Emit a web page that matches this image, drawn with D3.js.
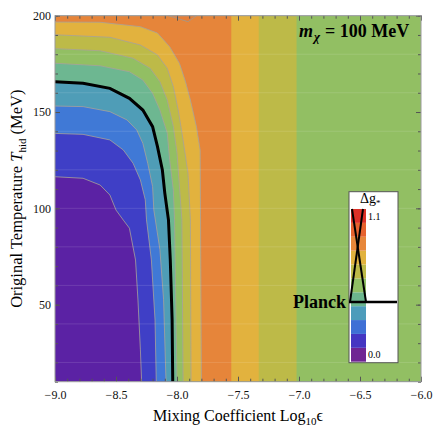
<!DOCTYPE html>
<meta charset="utf-8">
<script src="https://d3js.org/d3.v7.min.js"></script>
<style>
  body { margin: 0; background: #fff; }
  text { font-family: "Liberation Serif", "Times New Roman", serif; }
</style>
<div id="my_dataviz"></div>
<script>

// tick labels
var xMajor = [-9.0, -8.5, -8.0, -7.5, -7.0, -6.5, -6.0];
var yMajor = [50, 100, 150, 200];

// fill colour of each Δg band (plot) and of the legend bar
var levelColors = ["#5b22a4", "#3f3fc6", "#4079d6", "#4f9db7", "#6db791",
                   "#92bf63", "#bdba48", "#e2b23e", "#e6853a", "#e67f39"];
var legendColors = ["#6f2593", "#4536c2", "#3f70d5", "#4d9cbb", "#6cb68e", "#90bf64",
                    "#bdba48", "#e1b23e", "#e7873a", "#e6622e", "#dd3128"];
var legendLevels = [0.0, 0.1, 0.2, 0.3, 0.4, 0.5, 0.6, 0.7, 0.8, 0.9, 1.0, 1.1];
var legendPlanck = 0.43;

// contour boundaries: [log10 eps, T_hid]
var contour1 = [[-9,116.4],[-8.77,115.6],[-8.63,112.1],[-8.55,106.9],[-8.5,99.1],[-8.44,93.9],[-8.39,89.7],[-8.34,73.2],[-8.32,52.4],[-8.30,26.5],[-8.29,10]];
var contour2 = [[-9,138.9],[-8.77,138.4],[-8.55,135.5],[-8.44,130.3],[-8.36,123.4],[-8.30,114.7],[-8.26,104.4],[-8.25,94],[-8.21,73.2],[-8.18,42],[-8.17,10]];
var contour3 = [[-9,153.1],[-8.77,152.8],[-8.55,150.2],[-8.41,145.9],[-8.33,140.7],[-8.28,133.8],[-8.24,123.4],[-8.20,111.3],[-8.19,99.2],[-8.14,78.5],[-8.11,52.5],[-8.09,10]];
var planck   = [[-9,165.7],[-8.77,164.9],[-8.55,162.3],[-8.39,157.1],[-8.28,151.0],[-8.20,142.4],[-8.16,132.0],[-8.12,119.9],[-8.10,107.9],[-8.07,94],[-8.055,73.2],[-8.04,42],[-8.035,10]];
var contour5 = [[-9,175.3],[-8.63,174.0],[-8.39,170.9],[-8.28,166.6],[-8.20,159.7],[-8.14,151.0],[-8.08,139.1],[-8.06,125.1],[-8.03,109.5],[-8.02,94],[-8.0,10]];
var contour6 = [[-9,182.9],[-8.63,181.8],[-8.36,177.9],[-8.22,172.7],[-8.14,165.7],[-8.08,156.2],[-8.03,142.4],[-8.0,128.7],[-7.98,111.2],[-7.96,94],[-7.95,10]];
var contour7 = [[-9,190.1],[-8.55,188.8],[-8.30,184.8],[-8.16,179.6],[-8.08,172.7],[-8.03,163.1],[-7.99,151.0],[-7.95,135.4],[-7.91,118.3],[-7.89,94],[-7.885,10]];
var contour8 = [[-9,196.7],[-8.63,196.6],[-8.30,194.3],[-8.16,191.0],[-8.06,183.9],[-7.98,175.3],[-7.93,165.7],[-7.89,156.2],[-7.84,142.2],[-7.81,130.2],[-7.80,10]];
var contours = [contour1, contour2, contour3, planck, contour5, contour6, contour7, contour8];
// where each band stops on the right (falls again at large eps)
var rightEdges = [-6, -6, -6, -6, -6, -7.02, -7.33, -7.555];
// small peak region at the top edge
var topPeak = [[-8.07,200],[-7.91,196.9],[-7.84,200]];

var margin = {top: 15.7, right: 15, bottom: 54.3, left: 55},
    width = 436 - margin.left - margin.right,
    height = 436 - margin.top - margin.bottom;

var svg = d3.select("#my_dataviz")
  .append("svg")
    .attr("width", 436)
    .attr("height", 436)
  .append("g")
    .attr("transform", "translate(" + margin.left + "," + margin.top + ")");

var x = d3.scaleLinear().domain([-9, -6]).range([0, width]);
var y = d3.scaleLinear().domain([10, 200]).range([height, 0]);

svg.append("clipPath").attr("id", "clip")
  .append("rect").attr("width", width).attr("height", height);

var plot = svg.append("g").attr("clip-path", "url(#clip)");

var line = d3.line().x(function(d) { return x(d[0]); }).y(function(d) { return y(d[1]); });

// lowest band everywhere
plot.append("rect")
  .attr("width", width).attr("height", height)
  .style("fill", levelColors[0]);

// each higher band: from its contour to its right edge
contours.forEach(function(c, i) {
  var pts = [[-9, 200]].concat(c, [[rightEdges[i], 10], [rightEdges[i], 200]]);
  plot.append("path")
    .attr("d", line(pts) + "Z")
    .style("fill", levelColors[i + 1]);
});
plot.append("path")
  .attr("d", line(topPeak) + "Z")
  .style("fill", levelColors[9])
  .style("stroke", "#a09a90").style("stroke-width", 0.8);

// grey contour lines
contours.forEach(function(c, i) {
  plot.append("path")
    .attr("d", line(c))
    .style("fill", "none").style("stroke", "#a8a29a").style("stroke-width", 0.8);
  if (rightEdges[i] > -6) {
    plot.append("line")
      .attr("x1", x(rightEdges[i])).attr("x2", x(rightEdges[i]))
      .attr("y1", 0).attr("y2", height)
      .style("stroke", "#a8a29a").style("stroke-width", 0.8);
  }
});

// faint mesh lines
plot.selectAll(".mesh")
  .data(d3.range(20, 200, 20))
  .enter().append("line")
    .attr("x1", 0).attr("x2", width)
    .attr("y1", function(d) { return y(d); }).attr("y2", function(d) { return y(d); })
    .style("stroke", "#fff").style("stroke-opacity", 0.12);

// Planck line
plot.append("path")
  .attr("d", line(planck))
  .style("fill", "none").style("stroke", "#000").style("stroke-width", 3);

// axes, ticks pointing inside
function styleAxis(g) {
  g.select(".domain").remove();
  g.selectAll(".tick line").attr("stroke", "#555");
  g.selectAll("text").style("font-family", "'Liberation Serif', serif").style("font-size", "12px").attr("fill", "#111");
}
var xMinor = d3.range(-9, -5.95, 0.1), yMinor = d3.range(10, 201, 10);

svg.append("g").attr("transform", "translate(0," + height + ")")
  .call(d3.axisBottom(x).tickValues(xMinor).tickSize(-3).tickFormat("")).call(styleAxis);
svg.append("g").attr("transform", "translate(0," + height + ")")
  .call(d3.axisBottom(x).tickValues(xMajor).tickSize(-5).tickPadding(9).tickFormat(d3.format(".1f"))).call(styleAxis);
svg.append("g")
  .call(d3.axisTop(x).tickValues(xMinor).tickSize(-3).tickFormat("")).call(styleAxis);
svg.append("g")
  .call(d3.axisTop(x).tickValues(xMajor).tickSize(-5).tickFormat("")).call(styleAxis);
svg.append("g")
  .call(d3.axisLeft(y).tickValues(yMinor).tickSize(-3).tickFormat("")).call(styleAxis);
svg.append("g")
  .call(d3.axisLeft(y).tickValues(yMajor).tickSize(-5).tickPadding(4)).call(styleAxis);
svg.append("g").attr("transform", "translate(" + width + ",0)")
  .call(d3.axisRight(y).tickValues(yMinor).tickSize(-3).tickFormat("")).call(styleAxis);
svg.append("g").attr("transform", "translate(" + width + ",0)")
  .call(d3.axisRight(y).tickValues(yMajor).tickSize(-5).tickFormat("")).call(styleAxis);

svg.append("rect")
  .attr("width", width).attr("height", height)
  .style("fill", "none").style("stroke", "#9a9a9a");

// title inside the plot
var title = svg.append("text")
  .attr("x", 244).attr("y", 21.5)
  .style("font-size", "18px").style("font-weight", "bold");
title.append("tspan").style("font-style", "italic").text("m");
title.append("tspan").style("font-style", "italic").style("font-size", "13px").attr("dy", 4).attr("dx", 1).text("χ");
title.append("tspan").attr("dy", -4).attr("dx", 5).text("= 100 MeV");

// axis labels
var xl = svg.append("text")
  .attr("text-anchor", "middle")
  .attr("x", width / 2).attr("y", height + 39)
  .style("font-size", "16px");
xl.append("tspan").text("Mixing Coefficient Log");
xl.append("tspan").attr("dy", 4).style("font-size", "11px").text("10");
xl.append("tspan").attr("dy", -4).text("ϵ");

var yl = svg.append("text")
  .attr("text-anchor", "middle")
  .attr("transform", "rotate(-90)")
  .attr("x", -height / 2).attr("y", -33)
  .style("font-size", "16.5px");
yl.append("tspan").text("Original Temperature  ");
yl.append("tspan").style("font-style", "italic").text("T");
yl.append("tspan").attr("dy", 4).style("font-size", "11px").text("hid");
yl.append("tspan").attr("dy", -4).text(" (MeV)");

// legend
var lg = svg.append("g").attr("transform", "translate(" + (349 - margin.left) + "," + (191.7 - margin.top) + ")");
lg.append("rect").attr("width", 49).attr("height", 171)
  .style("fill", "#fff").style("stroke", "#555");
var ly = d3.scaleLinear().domain([0, 1.1]).range([170, 17.3]);
lg.selectAll(".band")
  .data(legendColors)
  .enter().append("rect")
    .attr("x", 2).attr("width", 15)
    .attr("y", function(d, i) { return ly(legendLevels[i + 1]); })
    .attr("height", function(d, i) { return ly(legendLevels[i]) - ly(legendLevels[i + 1]); })
    .style("fill", function(d) { return d; });
lg.append("text").attr("x", 19).attr("y", ly(1.1) + 11).style("font-size", "10px").text("1.1");
lg.append("text").attr("x", 19).attr("y", ly(0) - 4).style("font-size", "10px").text("0.0");
var lt = lg.append("text").attr("x", 11).attr("y", 11).style("font-size", "14px");
lt.append("tspan").text("Δg");
lt.append("tspan").attr("dy", 3).style("font-size", "9px").text("*");

lg.append("line")
  .attr("x1", 3).attr("y1", ly(1.1)).attr("x2", 17).attr("y2", ly(legendPlanck))
  .style("stroke", "#000").style("stroke-width", 2);
lg.append("line")
  .attr("x1", 14).attr("y1", ly(1.1)).attr("x2", 1).attr("y2", ly(legendPlanck))
  .style("stroke", "#000").style("stroke-width", 2);
lg.append("line")
  .attr("x1", 0).attr("y1", ly(legendPlanck)).attr("x2", 48).attr("y2", ly(legendPlanck))
  .style("stroke", "#000").style("stroke-width", 2.5);
lg.append("text")
  .attr("text-anchor", "end")
  .attr("x", -3).attr("y", ly(legendPlanck) + 6)
  .style("font-size", "18px").style("font-weight", "bold")
  .text("Planck");

</script>
